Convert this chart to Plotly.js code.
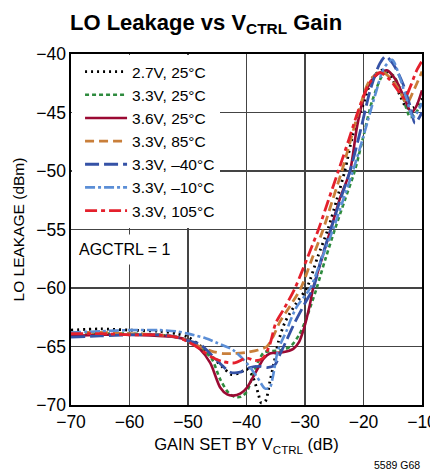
<!DOCTYPE html>
<html>
<head>
<meta charset="utf-8">
<script src="https://cdn.plot.ly/plotly-3.0.1.min.js"></script>
<style>html,body{margin:0;padding:0;background:#fff;}#chart{width:430px;height:476px;}</style>
</head>
<body>
<div id="chart"></div>
<script>
// ---- data ----
const names = ['2.7V, 25°C','3.3V, 25°C','3.6V, 25°C','3.3V, 85°C','3.3V, –40°C','3.3V, –10°C','3.3V, 105°C'];

const x27_25 = [-70,-65,-60,-55,-52,-50,-48,-46,-44,-42.5,-41,-40,-39,-38,-37.5,-36.8,-36,-35.3,-34.5,-33.4,-31.5,-29.7,-27.8,-26.1,-24.6,-23.2,-21.8,-20.1,-18.4,-17,-16,-15,-13.8,-12.6,-11.5,-10];
const y27_25 = [-63.6,-63.5,-63.6,-63.7,-63.9,-64.2,-64.9,-65.8,-66.8,-67.4,-67.2,-66.9,-67.5,-69.0,-69.8,-69.7,-68.0,-66.4,-64.5,-62.9,-61.3,-60.0,-57.3,-55.0,-52.5,-50.0,-46.9,-44.4,-42.0,-41.4,-41.5,-42.2,-43.5,-44.6,-44.6,-43.8];

const x33_25 = [-70,-65,-60,-55,-52,-50,-48,-46,-44.5,-43,-42,-41,-40,-39,-38,-37,-36,-34,-32.5,-31,-30,-29,-28,-26.5,-24.9,-23.2,-21.5,-20,-18.5,-16.5,-15,-13.5,-12,-11,-10];
const y33_25 = [-64.0,-63.9,-63.9,-64.0,-64.2,-64.5,-65.1,-66.0,-67.8,-69.0,-69.3,-69.3,-68.9,-67.6,-66.3,-65.5,-65.4,-65.3,-65.0,-64.0,-62.9,-61.5,-60.0,-57.5,-55.0,-52.5,-50.0,-47.0,-44.0,-41.7,-41.8,-43.3,-45.4,-45.0,-44.0];

const x36_25 = [-70,-65,-60,-55,-52,-50,-48,-46.2,-44.5,-43.3,-42.3,-41,-39.9,-38.2,-37,-36,-33.8,-32,-31,-30.2,-29.2,-28.6,-27,-25.6,-24,-22.3,-21.1,-19.7,-18,-16,-14.5,-13,-11.8,-11,-10];
const y36_25 = [-64.1,-64.0,-64.0,-64.1,-64.2,-64.5,-65.2,-66.4,-68.5,-69.1,-69.2,-69.0,-68.5,-67.0,-66.0,-65.6,-65.5,-65.2,-64.6,-63.5,-61.5,-60.0,-57.3,-55.0,-52.3,-50.0,-46.2,-43.3,-41.9,-41.4,-42.2,-43.8,-45.0,-44.5,-43.1];

const x33_85 = [-70,-65,-60,-55,-52,-50,-48,-46,-44,-42,-40,-38,-36.5,-35.5,-34.3,-32.5,-30.7,-28.8,-26.9,-25.3,-23.7,-22,-20.6,-19,-17,-15.5,-14,-12.6,-11.5,-10];
const y33_85 = [-63.8,-63.8,-63.9,-64.0,-64.2,-64.5,-65.0,-65.4,-65.6,-65.6,-65.5,-65.3,-65.0,-64.2,-62.9,-61.5,-60.0,-57.5,-55.0,-52.5,-50.0,-47.0,-44.5,-42.3,-41.5,-42.0,-43.0,-44.2,-43.2,-41.5];

const x33_m40 = [-70,-65,-60,-55,-52,-50,-48,-46,-44,-42.8,-41.1,-39.4,-37.7,-36.5,-35.2,-34.3,-33.1,-31.7,-30,-28.6,-27.2,-25.6,-24,-22.3,-20.5,-18.8,-17.2,-16.2,-15,-13.3,-12,-11.2,-10];
const y33_m40 = [-64.2,-64.1,-64.0,-64.0,-64.2,-64.5,-64.8,-65.7,-66.7,-67.2,-67.2,-66.8,-66.7,-66.8,-66.6,-65.7,-64.4,-62.9,-61.3,-60.0,-57.5,-55.0,-52.5,-50.0,-46.5,-43.0,-40.8,-40.2,-40.8,-42.5,-44.5,-45.9,-45.0];

const x33_m10 = [-70,-65,-60,-55,-52,-50,-47,-45,-42.3,-40,-38.2,-36.8,-36,-35.5,-34.6,-33.1,-32.6,-31.4,-29.1,-27,-25.2,-23.5,-21.8,-20,-18,-16.5,-15.1,-13.8,-12.6,-11.5,-10];
const y33_m10 = [-63.8,-63.7,-63.6,-63.6,-63.7,-63.9,-64.3,-64.7,-65.3,-66.4,-67.6,-68.6,-68.5,-67.6,-65.3,-63.6,-62.9,-61.6,-60.0,-57.3,-55.0,-52.5,-50.0,-47.0,-43.5,-41.2,-40.5,-42.0,-43.9,-45.4,-44.2];

const x33_105 = [-70,-65,-60,-55,-52,-50,-48,-46,-44,-42,-40,-38.5,-37.2,-36,-35,-33.5,-31.7,-29.5,-27.7,-26,-24.3,-22.5,-21,-19,-17.2,-15.5,-14,-13,-12,-11,-10];
const y33_105 = [-63.9,-63.9,-64.0,-64.0,-64.2,-64.6,-65.2,-65.9,-66.3,-66.4,-66.0,-66.2,-66.0,-64.8,-63.0,-61.7,-60.0,-57.3,-55.0,-52.5,-50.0,-47.3,-45.0,-42.5,-41.6,-42.2,-43.2,-43.8,-42.8,-41.5,-40.6];

const xTicks = [-70,-60,-50,-40,-30,-20,-10];
const yTicks = [-70,-65,-60,-55,-50,-45,-40];

// ---- styles ----
const FONT = '"Liberation Sans", Arial, Helvetica, sans-serif';
const series = [
  {x:x27_25, y:y27_25, color:'#000000', dash:'2px,4px', width:2.8},
  {x:x33_25, y:y33_25, color:'#2e8b3e', dash:'4px,3px', width:2.6},
  {x:x36_25, y:y36_25, color:'#9b0a33', dash:'solid', width:2.6},
  {x:x33_85, y:y33_85, color:'#c97f3a', dash:'9px,5px', width:2.8},
  {x:x33_m40, y:y33_m40, color:'#3552a6', dash:'14px,5px', width:2.8},
  {x:x33_m10, y:y33_m10, color:'#5b8ed6', dash:'10px,3px,3px,3px', width:2.6},
  {x:x33_105, y:y33_105, color:'#e4202c', dash:'12px,4px,4px,4px', width:2.8}
];

const traces = series.map((s,i)=>({
  type:'scatter', mode:'lines', name:names[i], x:s.x, y:s.y,
  line:{color:s.color, dash:s.dash, width:s.width, shape:'spline', smoothing:0.8}
}));

const minus = v => v<0 ? '\u2212'+Math.abs(v) : String(v);

const layout = {
  width:430, height:476,
  margin:{l:71, r:8, t:54, b:71},
  paper_bgcolor:'#fff', plot_bgcolor:'#fff',
  font:{family:FONT, color:'#000', size:17},
  title:{text:'LO Leakage vs V<sub>CTRL</sub> Gain', font:{family:FONT, size:22, weight:'bold', color:'#000'},
         x:70/430, xanchor:'left', xref:'container', y:1-22/476, yanchor:'middle', yref:'container'},
  xaxis:{range:[-70,-10], tickvals:xTicks, ticktext:xTicks.map(minus),
         showgrid:true, gridcolor:'#444', gridwidth:1.3, zeroline:false,
         showline:true, linecolor:'#000', linewidth:1.6, mirror:true, ticks:'',
         tickfont:{size:17.5}, ticklabeloverflow:'allow', fixedrange:true,
         title:{text:'GAIN SET BY V<sub>CTRL</sub> (dB)', font:{size:16.5}, standoff:8}},
  yaxis:{range:[-70,-40], tickvals:yTicks, ticktext:yTicks.map(minus),
         showgrid:true, gridcolor:'#444', gridwidth:1.3, zeroline:false,
         showline:true, linecolor:'#000', linewidth:1.6, mirror:true, ticks:'',
         tickfont:{size:17.5}, fixedrange:true,
         title:{text:'LO LEAKAGE (dBm)', font:{size:15.5}, standoff:8}},
  showlegend:true,
  legend:{x:0.003, y:0.997, xanchor:'left', yanchor:'top', bgcolor:'#fff', borderwidth:0,
          font:{size:15.5, family:FONT}, itemwidth:42, tracegroupgap:0, indentation:8},
  annotations:[
    {text:'AGCTRL = 1', xref:'paper', yref:'paper', x:0.004, y:((-56.75) - (-70)) / 30, showarrow:false,
     xanchor:'left', yanchor:'middle', font:{size:16}, bgcolor:'#fff', borderpad:6},
    {text:'5589 G68', xref:'paper', yref:'paper', x:1, y:-0.172, showarrow:false,
     xanchor:'right', yanchor:'middle', font:{size:10.5}}
  ]
};

Plotly.newPlot('chart', traces, layout, {displayModeBar:false, staticPlot:true});
</script>
</body>
</html>
